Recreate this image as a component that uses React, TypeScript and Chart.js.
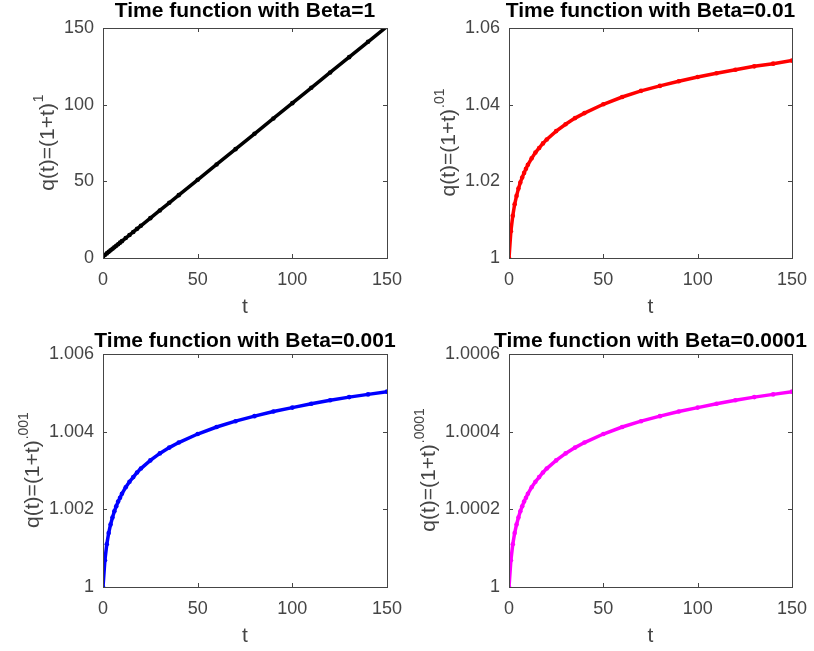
import React, { useEffect, useRef } from "react";
import { Chart, registerables } from "chart.js";

Chart.register(...registerables);

// ---- data ----
const T = [0, 1, 2, 3, 4, 5, 6, 7, 8, 9, 10, 12, 14, 16, 18, 20, 25, 30, 35, 40, 50, 60, 70, 80, 90, 100, 110, 120, 130, 140, 150];

const Q_BETA_1 = [1, 2, 3, 4, 5, 6, 7, 8, 9, 10, 11, 13, 15, 17, 19, 21, 26, 31, 36, 41, 51, 61, 71, 81, 91, 101, 111, 121, 131, 141, 151];

const Q_BETA_01 = [1.0, 1.007, 1.011, 1.014, 1.0162, 1.0181, 1.0197, 1.021, 1.0222, 1.0233, 1.0243, 1.026, 1.0275, 1.0287, 1.0299, 1.0309, 1.0331, 1.0349, 1.0365, 1.0378, 1.0401, 1.042, 1.0436, 1.0449, 1.0461, 1.0472, 1.0482, 1.0491, 1.05, 1.0507, 1.0515];

const Q_BETA_001 = [1.0, 1.00069, 1.0011, 1.00139, 1.00161, 1.00179, 1.00195, 1.00208, 1.0022, 1.0023, 1.0024, 1.00257, 1.00271, 1.00283, 1.00295, 1.00305, 1.00326, 1.00344, 1.00359, 1.00372, 1.00394, 1.00412, 1.00427, 1.0044, 1.00452, 1.00462, 1.00472, 1.00481, 1.00489, 1.00496, 1.00503];

const Q_BETA_0001 = [1.0, 1.000069, 1.00011, 1.000139, 1.000161, 1.000179, 1.000195, 1.000208, 1.00022, 1.00023, 1.00024, 1.000257, 1.000271, 1.000283, 1.000295, 1.000305, 1.000326, 1.000344, 1.000359, 1.000372, 1.000394, 1.000412, 1.000427, 1.00044, 1.000452, 1.000462, 1.000472, 1.000481, 1.000489, 1.000496, 1.000503];

const X_TICKS = [0, 50, 100, 150];
const X_TICK_LABELS = ["0", "50", "100", "150"];

const Y_TICKS_1 = [0, 50, 100, 150];
const Y_TICK_LABELS_1 = ["0", "50", "100", "150"];
const Y_TICKS_01 = [1, 1.02, 1.04, 1.06];
const Y_TICK_LABELS_01 = ["1", "1.02", "1.04", "1.06"];
const Y_TICKS_001 = [1, 1.002, 1.004, 1.006];
const Y_TICK_LABELS_001 = ["1", "1.002", "1.004", "1.006"];
const Y_TICKS_0001 = [1, 1.0002, 1.0004, 1.0006];
const Y_TICK_LABELS_0001 = ["1", "1.0002", "1.0004", "1.0006"];

const TITLES = [
  "Time function with Beta=1",
  "Time function with Beta=0.01",
  "Time function with Beta=0.001",
  "Time function with Beta=0.0001",
];
const X_LABEL = "t";
const Y_LABEL_MAIN = "q(t)=(1+t)";
const Y_LABEL_SUPS = ["1", ".01", ".001", ".0001"];

// ---- styling ----
const FONT = "'Liberation Sans', Arial, Helvetica, sans-serif";
const TICK_SIZE = 18;
const LABEL_SIZE = 21;
const TITLE_SIZE = 21;
const SUP_SIZE = 14;
const AXIS_COLOR = "#454545";

type PanelProps = {
  left: number;
  top: number;
  width: number;
  height: number;
  area: { l: number; r: number; t: number; b: number };
  color: string;
  values: number[];
  yTicks: number[];
  yTickLabels: string[];
  title: string;
  sup: string;
  titleGap: number;
};

function Panel(p: PanelProps) {
  const ref = useRef<HTMLCanvasElement | null>(null);

  useEffect(() => {
    if (!ref.current) return;
    const yMin = p.yTicks[0];
    const yMax = p.yTicks[p.yTicks.length - 1];

    const decor = {
      id: "matlabDecor",
      afterDraw(chart: any) {
        const ctx = chart.ctx as CanvasRenderingContext2D;
        const a = chart.chartArea;
        const xs = chart.scales.x;
        const ys = chart.scales.y;
        ctx.save();
        // box
        ctx.strokeStyle = AXIS_COLOR;
        ctx.lineWidth = 1;
        ctx.strokeRect(Math.round(a.left) + 0.5, Math.round(a.top) + 0.5, Math.round(a.right - a.left), Math.round(a.bottom - a.top));
        // inward ticks
        const tl = 4;
        ctx.beginPath();
        for (const v of X_TICKS) {
          const x = Math.round(xs.getPixelForValue(v)) + 0.5;
          ctx.moveTo(x, a.bottom);
          ctx.lineTo(x, a.bottom - tl);
          ctx.moveTo(x, a.top);
          ctx.lineTo(x, a.top + tl);
        }
        for (const v of p.yTicks) {
          const y = Math.round(ys.getPixelForValue(v)) + 0.5;
          ctx.moveTo(a.left, y);
          ctx.lineTo(a.left + tl, y);
          ctx.moveTo(a.right, y);
          ctx.lineTo(a.right - tl, y);
        }
        ctx.stroke();

        const cx = (a.left + a.right) / 2;
        // title
        ctx.fillStyle = "#000";
        ctx.font = `bold ${TITLE_SIZE}px ${FONT}`;
        ctx.textAlign = "center";
        ctx.textBaseline = "alphabetic";
        ctx.fillText(p.title, cx, a.top - p.titleGap);

        // x label
        ctx.fillStyle = AXIS_COLOR;
        ctx.font = `${LABEL_SIZE}px ${FONT}`;
        ctx.fillText(X_LABEL, cx, a.bottom + 55);

        // y label with superscript
        ctx.font = `${TICK_SIZE}px ${FONT}`;
        let maxW = 0;
        for (const s of p.yTickLabels) maxW = Math.max(maxW, ctx.measureText(s).width);
        const lx = a.left - 9 - maxW - 16;
        const ly = (a.top + a.bottom) / 2;
        ctx.translate(lx, ly);
        ctx.rotate(-Math.PI / 2);
        ctx.font = `${LABEL_SIZE}px ${FONT}`;
        const wMain = ctx.measureText(Y_LABEL_MAIN).width;
        ctx.font = `${SUP_SIZE}px ${FONT}`;
        const wSup = ctx.measureText(p.sup).width;
        const start = -(wMain + wSup) / 2;
        ctx.textAlign = "left";
        ctx.textBaseline = "middle";
        ctx.font = `${LABEL_SIZE}px ${FONT}`;
        ctx.fillText(Y_LABEL_MAIN, start, 0);
        ctx.font = `${SUP_SIZE}px ${FONT}`;
        ctx.fillText(p.sup, start + wMain + 1, -9);
        ctx.restore();
      },
    };

    const chart = new Chart(ref.current, {
      type: "line",
      data: {
        datasets: [
          {
            data: T.map((t, i) => ({ x: t, y: p.values[i] })),
            borderColor: p.color,
            backgroundColor: p.color,
            borderWidth: 3.5,
            pointRadius: 2.3,
            pointBorderWidth: 0,
            pointBackgroundColor: p.color,
            tension: 0,
            fill: false,
          },
        ],
      },
      options: {
        animation: false,
        responsive: false,
        maintainAspectRatio: false,
        events: [],
        layout: { padding: { left: 0, top: p.area.t, right: p.width - p.area.r, bottom: 0 } },
        plugins: { legend: { display: false }, tooltip: { enabled: false }, title: { display: false } },
        scales: {
          x: {
            type: "linear",
            min: 0,
            max: 150,
            grid: { display: false, drawTicks: false },
            border: { display: false },
            afterBuildTicks: (s: any) => {
              s.ticks = X_TICKS.map((v) => ({ value: v }));
            },
            afterFit: (s: any) => {
              s.height = p.height - p.area.b;
              s.paddingLeft = 0;
              s.paddingRight = 0;
            },
            ticks: {
              callback: (_v: any, i: number) => X_TICK_LABELS[i],
              font: { family: FONT, size: TICK_SIZE },
              color: AXIS_COLOR,
              padding: 11,
              maxRotation: 0,
              autoSkip: false,
            },
          },
          y: {
            type: "linear",
            min: yMin,
            max: yMax,
            grid: { display: false, drawTicks: false },
            border: { display: false },
            afterBuildTicks: (s: any) => {
              s.ticks = p.yTicks.map((v) => ({ value: v }));
            },
            afterFit: (s: any) => {
              s.width = p.area.l;
              s.paddingTop = 0;
              s.paddingBottom = 0;
            },
            ticks: {
              callback: (_v: any, i: number) => p.yTickLabels[i],
              font: { family: FONT, size: TICK_SIZE },
              color: AXIS_COLOR,
              padding: 9,
              autoSkip: false,
            },
          },
        },
      },
      plugins: [decor],
    } as any);

    return () => chart.destroy();
  }, []);

  return (
    <canvas
      ref={ref}
      width={p.width}
      height={p.height}
      style={{ position: "absolute", left: p.left, top: p.top, width: p.width, height: p.height }}
    />
  );
}

export default function App() {
  useEffect(() => {
    document.body.style.margin = "0";
    document.body.style.background = "#fff";
  }, []);
  return (
    <div style={{ position: "absolute", left: 0, top: 0, width: 814, height: 651, background: "#fff" }}>
      <Panel left={0} top={0} width={407} height={322} area={{ l: 103, r: 387, t: 28, b: 258 }} color="#000000"
        values={Q_BETA_1} yTicks={Y_TICKS_1} yTickLabels={Y_TICK_LABELS_1} title={TITLES[0]} sup={Y_LABEL_SUPS[0]} titleGap={11} />
      <Panel left={407} top={0} width={407} height={322} area={{ l: 102, r: 385, t: 28, b: 258 }} color="#ff0000"
        values={Q_BETA_01} yTicks={Y_TICKS_01} yTickLabels={Y_TICK_LABELS_01} title={TITLES[1]} sup={Y_LABEL_SUPS[1]} titleGap={11} />
      <Panel left={0} top={322} width={407} height={329} area={{ l: 103, r: 387, t: 32, b: 265 }} color="#0000ff"
        values={Q_BETA_001} yTicks={Y_TICKS_001} yTickLabels={Y_TICK_LABELS_001} title={TITLES[2]} sup={Y_LABEL_SUPS[2]} titleGap={7} />
      <Panel left={407} top={322} width={407} height={329} area={{ l: 102, r: 385, t: 32, b: 265 }} color="#ff00ff"
        values={Q_BETA_0001} yTicks={Y_TICKS_0001} yTickLabels={Y_TICK_LABELS_0001} title={TITLES[3]} sup={Y_LABEL_SUPS[3]} titleGap={7} />
    </div>
  );
}
